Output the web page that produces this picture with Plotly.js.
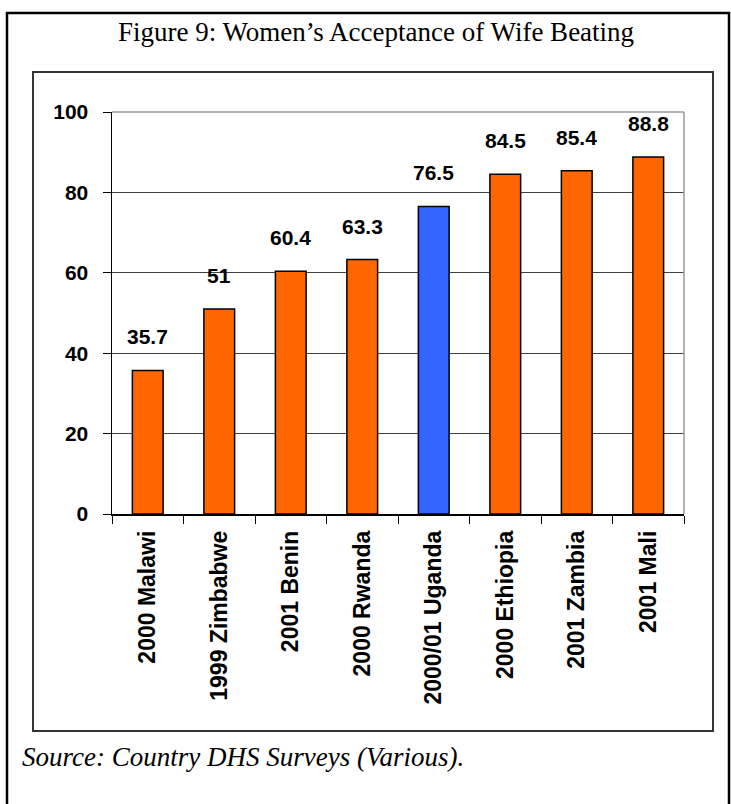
<!DOCTYPE html>
<html>
<head>
<meta charset="utf-8">
<script src="https://cdn.plot.ly/plotly-3.0.1.min.js"></script>
<style>
html,body{margin:0;padding:0;background:#fff;}
#chart{width:731px;height:804px;}
</style>
</head>
<body>
<div id="chart"></div>
<script>
// ---- data ----
var categories = ["2000 Malawi", "1999 Zimbabwe", "2001 Benin", "2000 Rwanda", "2000/01 Uganda", "2000 Ethiopia", "2001 Zambia", "2001 Mali"];
var values = [35.7, 51, 60.4, 63.3, 76.5, 84.5, 85.4, 88.8];
var valueLabels = ["35.7", "51", "60.4", "63.3", "76.5", "84.5", "85.4", "88.8"];
var highlighted = "2000/01 Uganda";
var yTicks = [0, 20, 40, 60, 80, 100];
var titleText = "Figure 9: Women\u2019s Acceptance of Wife Beating";
var sourceText = "Source: Country DHS Surveys (Various).";

// ---- layout geometry (pixels) ----
var W = 731, H = 804;
var M = {l: 112, r: 47, t: 112, b: 290};
var pw = W - M.l - M.r, ph = H - M.t - M.b;
function px(x){ return (x - M.l) / pw; }
function py(y){ return (H - M.b - y) / ph; }

var orange = "#FF6600", blue = "#3366FF";
var colors = categories.map(function(c){ return c === highlighted ? blue : orange; });

var trace = {
  type: "bar",
  x: categories,
  y: values,
  marker: {color: colors, line: {color: "#000", width: 1.5}},
  hoverinfo: "x+y",
  cliponaxis: false
};

var annotations = categories.map(function(c, i){
  return {
    x: c, y: values[i], xref: "x", yref: "y",
    text: valueLabels[i], showarrow: false,
    yanchor: "bottom", yshift: 20,
    font: {family: "Liberation Sans, Arial, sans-serif", size: 21, color: "#000", weight: "bold"}
  };
});
annotations.push({
  xref: "paper", yref: "paper", x: px(375.5), y: py(32),
  text: titleText, showarrow: false, xanchor: "center", yanchor: "middle",
  font: {family: "Liberation Serif, Times New Roman, serif", size: 27, color: "#000"}
});
annotations.push({
  xref: "paper", yref: "paper", x: px(20), y: py(757),
  text: "<i>" + sourceText + "</i>", showarrow: false, xanchor: "left", yanchor: "middle",
  font: {family: "Liberation Serif, Times New Roman, serif", size: 27, color: "#000"}
});

var shapes = [
  // outer frame
  {type: "rect", xref: "paper", yref: "paper", x0: px(7), x1: px(729), y0: py(830), y1: py(13),
   line: {color: "#000", width: 2.5}, layer: "below"},
  // chart box
  {type: "rect", xref: "paper", yref: "paper", x0: px(33), x1: px(713), y0: py(731), y1: py(72),
   line: {color: "#333", width: 2}, layer: "below"},
  // top & right plot edges
  {type: "line", xref: "paper", yref: "paper", x0: 0, x1: 1, y0: 1, y1: 1, line: {color: "#999", width: 1.5}},
  {type: "line", xref: "paper", yref: "paper", x0: 1, x1: 1, y0: 0, y1: 1, line: {color: "#999", width: 1.5}}
];

var layout = {
  width: W, height: H,
  margin: M,
  paper_bgcolor: "#fff", plot_bgcolor: "#fff",
  showlegend: false,
  bargap: 0.57,
  font: {family: "Liberation Sans, Arial, sans-serif", color: "#000"},
  xaxis: {
    type: "category",
    tickangle: -90,
    ticks: "outside", ticklen: 8, tickwidth: 1, tickcolor: "#000",
    tickson: "boundaries",
    showline: true, linecolor: "#000", linewidth: 1.5,
    showgrid: false, zeroline: false,
    ticklabelstandoff: 6,
    tickfont: {family: "Liberation Sans, Arial, sans-serif", size: 23, color: "#000", weight: "bold"}
  },
  yaxis: {
    range: [0, 100],
    tickvals: yTicks,
    ticktext: yTicks.map(String),
    ticks: "outside", ticklen: 8, tickwidth: 1, tickcolor: "#000",
    showline: true, linecolor: "#000", linewidth: 1.5,
    showgrid: true, gridcolor: "#404040", gridwidth: 1,
    zeroline: false,
    ticklabelstandoff: 10,
    tickfont: {family: "Liberation Sans, Arial, sans-serif", size: 21, color: "#000", weight: "bold"}
  },
  annotations: annotations,
  shapes: shapes
};

Plotly.newPlot("chart", [trace], layout, {displayModeBar: false, staticPlot: true});
</script>
</body>
</html>
